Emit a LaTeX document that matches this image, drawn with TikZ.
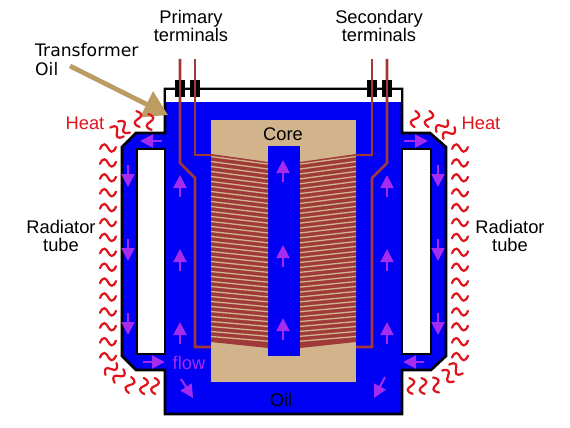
\documentclass[tikz,border=0pt]{standalone}
\usepackage{fontspec}
\setmainfont{Liberation Sans}
\newfontfamily\oilfont{DejaVu Sans}
\usetikzlibrary{positioning,arrows.meta,calc}
\definecolor{oilblu}{HTML}{0000F5}
\definecolor{coretan}{HTML}{D2B48C}
\definecolor{wirered}{HTML}{A03A3A}
\definecolor{flowpur}{HTML}{A52BEF}
\definecolor{heatred}{HTML}{E0141C}
\definecolor{arrowtan}{HTML}{BC9C62}
\tikzset{
  lbl/.style={font=\fontsize{18.3}{18}\selectfont,align=center,inner sep=0pt},
  flowarrow/.style={-{Triangle[length=13pt,width=13pt]},flowpur,line width=2pt},
  wire/.style={wirered,line width=2.6pt,line join=miter},
  heatline/.style={heatred,line width=2.2pt,line cap=round}
}
\newcommand{\wavex}[2]{\hwx+(#1)*\hcs+(#2)*\hsn}
\newcommand{\wavey}[2]{\hwy-(#1)*\hsn+(#2)*\hcs}
\newcommand{\heatwave}[3]{%
  \pgfmathsetmacro{\hcs}{cos(#3)}\pgfmathsetmacro{\hsn}{sin(#3)}%
  \pgfmathsetmacro{\hwx}{#1}\pgfmathsetmacro{\hwy}{#2}%
  \draw[heatline] ({\wavex{-8}{1}},{\wavey{-8}{1}}) .. controls ({\wavex{-5}{-6}},{\wavey{-5}{-6}}) and ({\wavex{-2}{-4}},{\wavey{-2}{-4}}) .. (\hwx,\hwy) .. controls ({\wavex{2}{4}},{\wavey{2}{4}}) and ({\wavex{5}{6}},{\wavey{5}{6}}) .. ({\wavex{8}{-1}},{\wavey{8}{-1}});}
\begin{document}
\begin{tikzpicture}[x=1pt,y=-1pt]
  \useasboundingbox (0,0) rectangle (570,428);
  \draw[black,line width=2.6pt,fill=oilblu,line join=miter] (165,89)--(402,89)--(402,133)--(430,133)--(446,147)--(446,356)--(431,370)--(402,370)--(402,414)--(165,414)--(165,370)--(136,370)--(122,356)--(122,147)--(136,133)--(165,133)--cycle;
  \fill[white] (166.3,90.3) rectangle (400.7,102);
  \draw[black,line width=2.4pt,fill=white] (137,149) rectangle (165,354);
  \draw[black,line width=2.4pt,fill=white] (402,149) rectangle (431,354);
  \fill[coretan] (211,120) rectangle (356,382);
  \fill[oilblu] (268,146) rectangle (300,356);
  \fill[wirered] (211,154)--(268,162)--(268,348)--(211,342)--cycle;
  \fill[wirered] (356,154)--(300,162)--(300,348)--(356,342)--cycle;
  \foreach \i in {0,...,36}{
    \draw[coretan,line width=1.3pt] (211,156.5+5*\i)--(268,{164.1+4.92*\i});
    \draw[coretan,line width=1.3pt] (356,156.5+5*\i)--(300,{164.1+4.92*\i});
  }
  \draw[wire] (180,59)--(180,163)--(195,178)--(195,347)--(211,347);
  \draw[wire] (195,59)--(195,155)--(211,155);
  \draw[wire] (387,59)--(387,163)--(372,178)--(372,347)--(356,347);
  \draw[wire] (372,59)--(372,155)--(356,155);
  \foreach \bx in {180,195,372,387}{
    \fill[black] (\bx-5,80) rectangle (\bx-1.3,97);
    \fill[black] (\bx+1.3,80) rectangle (\bx+5,97);
  }
  \foreach \fx in {180,387}{
    \draw[flowarrow] (\fx,197)--(\fx,175);
    \draw[flowarrow] (\fx,271)--(\fx,249);
    \draw[flowarrow] (\fx,344)--(\fx,322);
  }
  \foreach \fy in {182,267,340}
    \draw[flowarrow] (283,\fy)--(283,\fy-22);
  \foreach \fx in {128,438}{
    \draw[flowarrow] (\fx,165)--(\fx,187);
    \draw[flowarrow] (\fx,239)--(\fx,261);
    \draw[flowarrow] (\fx,313)--(\fx,335);
  }
  \draw[flowarrow] (162,141)--(140,141);
  \draw[flowarrow] (404,141)--(428,141);
  \draw[flowarrow] (143,362)--(165,362);
  \draw[flowarrow] (424,362)--(403,362);
  \draw[flowarrow] (181,379)--(193,398);
  \draw[flowarrow] (385,377)--(374,398);
  \draw[arrowtan,line width=4.8pt,-{Triangle[length=24pt,width=28pt]}] (70,66)--(168,115);
  \foreach \hy in {0,...,14}{
    \heatwave{108}{148+14.9*\hy}{0}
    \heatwave{460}{148+14.9*\hy}{0}
  }
  \heatwave{117}{132}{-40} \heatwave{124}{127}{-50} \heatwave{138}{119}{-85} \heatwave{150}{122}{-85}
  \heatwave{449}{133}{40} \heatwave{442}{126}{40} \heatwave{429}{119}{80} \heatwave{415}{119}{80}
  \heatwave{111}{369}{40} \heatwave{119}{376}{50} \heatwave{130}{385}{75} \heatwave{144}{386}{85} \heatwave{155}{386}{85}
  \heatwave{456}{369}{-40} \heatwave{448}{376}{-50} \heatwave{436}{385}{-75} \heatwave{423}{386}{-85} \heatwave{411}{386}{-85}
  \node[lbl] (primary) at (191,26) {Primary\\terminals};
  \node[lbl] (secondary) at (379,26) {Secondary\\terminals};
  \node[font=\oilfont\fontsize{17.2}{19}\selectfont,align=left,inner sep=0pt,anchor=west] (trafooil) at (35,59.5) {Transformer\\Oil};
  \node[lbl,heatred] (heatl) at (85,123) {Heat};
  \node[lbl,heatred] (heatr) at (481,123) {Heat};
  \node[lbl] (radl) at (61,236) {Radiator\\tube};
  \node[lbl] (radr) at (510,236) {Radiator\\tube};
  \node[lbl] (core) at (283,134) {Core};
  \node[lbl] (oil) at (281,400) {Oil};
  \node[lbl,flowpur] (flow) at (189,363) {flow};
\end{tikzpicture}
\end{document}
